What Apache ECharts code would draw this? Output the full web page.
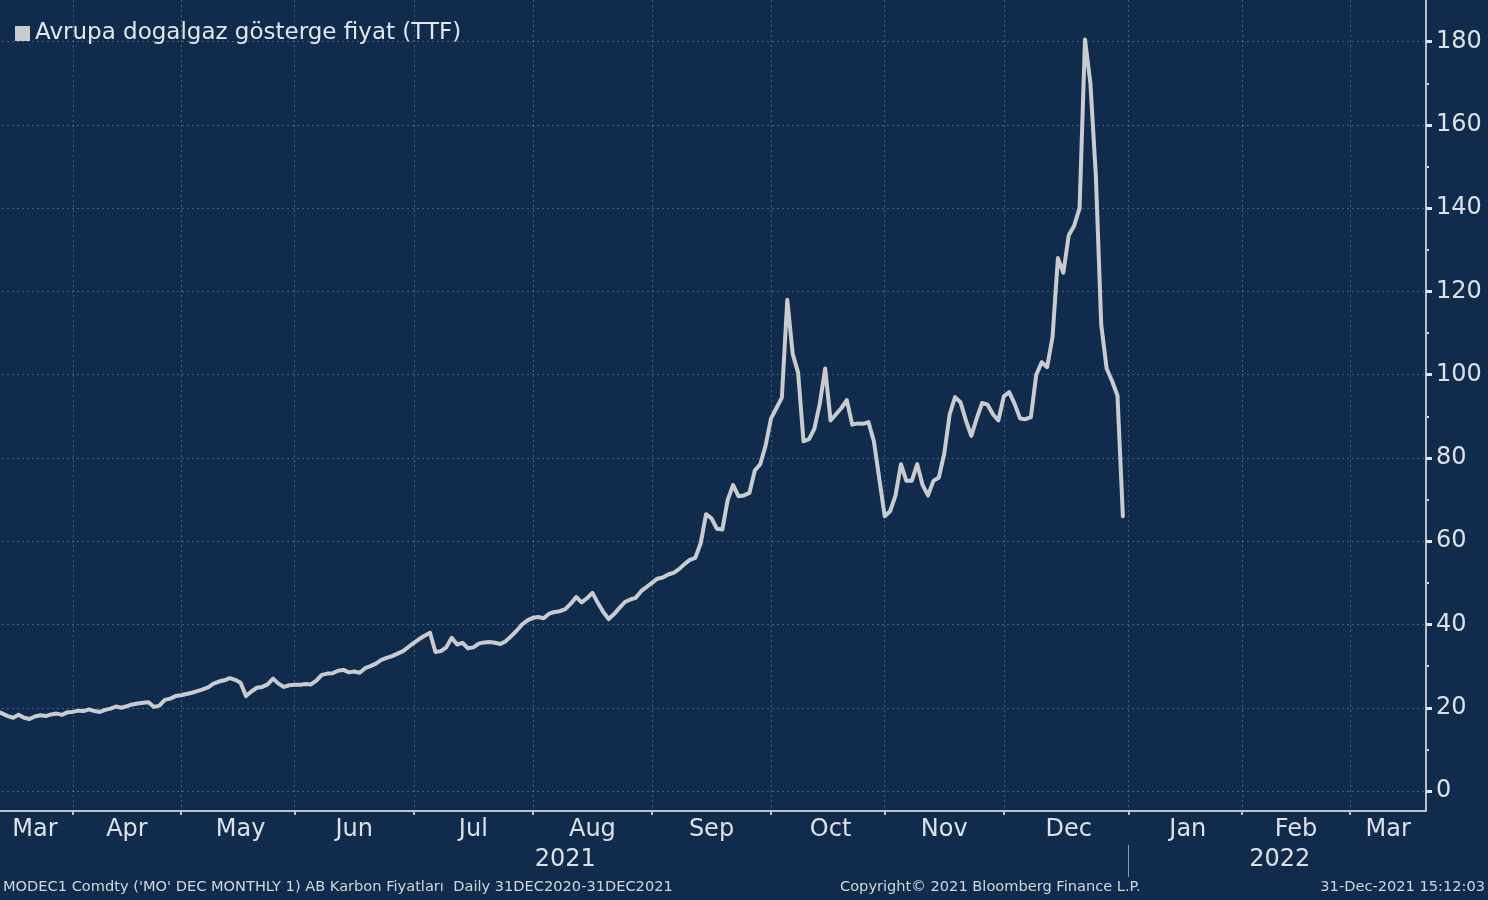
<!DOCTYPE html>
<html>
<head>
<meta charset="utf-8">
<script src="https://cdn.jsdelivr.net/npm/echarts@6/dist/echarts.min.js"></script>
<style>
html,body{margin:0;padding:0;background:#102b4b;}
#c{width:1488px;height:900px;}
</style>
</head>
<body>
<div id="c"></div>
<script>
// ---------- data ----------
const seriesName = 'Avrupa dogalgaz gösterge fiyat (TTF)';
const axisStart = '2021-03-12';
const axisEnd = '2022-03-21';
const holidays = ['2021-04-02', '2021-04-05'];
const monthNames = ['Jan','Feb','Mar','Apr','May','Jun','Jul','Aug','Sep','Oct','Nov','Dec'];
const yTickValues = [0, 20, 40, 60, 80, 100, 120, 140, 160, 180];
const yMinorTickValues = [10, 30, 50, 70, 90, 110, 130, 150, 170];
// daily (trading day) values from 12 Mar 2021 to 31 Dec 2021
const ttfValues = [
  19.2, 18.6, 18.0, 17.6, 18.3, 17.6, 17.3, 17.9, 18.2, 18.0,
  18.4, 18.6, 18.3, 18.9, 19.0, 19.3, 19.2, 19.6, 19.2, 19.0,
  19.5, 19.8, 20.3, 20.0, 20.4, 20.8, 21.0, 21.2, 21.3, 20.2,
  20.5, 21.9, 22.2, 22.8, 23.0, 23.3, 23.6, 24.0, 24.4, 24.9,
  25.8, 26.3, 26.6, 27.1, 26.7, 26.0, 22.8, 23.9, 24.8, 25.0,
  25.6, 27.0, 25.8, 25.0, 25.4, 25.5, 25.5, 25.7, 25.6, 26.5,
  27.9, 28.2, 28.3, 28.9, 29.1, 28.5, 28.7, 28.4, 29.5, 30.0,
  30.6, 31.5, 32.0, 32.4, 33.0, 33.6, 34.6, 35.6, 36.5, 37.3,
  38.0, 33.4, 33.6, 34.5, 36.8, 35.2, 35.6, 34.3, 34.5, 35.4,
  35.7, 35.8, 35.6, 35.3, 36.0, 37.2, 38.5, 40.0, 41.0, 41.6,
  41.8, 41.5, 42.6, 43.0, 43.2, 43.7, 45.0, 46.6, 45.3, 46.3,
  47.6, 45.2, 43.0, 41.3, 42.5, 44.0, 45.4, 46.0, 46.4, 48.0,
  49.0, 50.0, 51.0, 51.3, 52.0, 52.4, 53.3, 54.5, 55.5, 56.0,
  59.5, 66.5, 65.5, 63.0, 62.8, 70.0, 73.5, 70.8, 71.0, 71.6,
  77.0, 78.5, 83.0, 89.5, 92.0, 94.5, 118.0, 105.0, 100.5, 84.0,
  84.5, 87.0, 93.0, 101.5, 89.0, 90.5, 92.0, 93.9, 88.0, 88.3,
  88.2, 88.6, 84.0, 75.0, 66.0, 67.2, 71.0, 78.5, 74.5, 74.5,
  78.5, 73.5, 71.0, 74.5, 75.3, 81.0, 90.5, 94.6, 93.4, 89.0,
  85.3, 89.5, 93.2, 92.8, 90.5, 89.0, 94.8, 95.8, 93.0, 89.5,
  89.3, 89.8, 100.0, 103.0, 101.8, 109.0, 128.0, 124.5, 133.5, 135.8,
  140.0, 180.5, 170.0, 148.0, 112.0, 101.5, 98.5, 95.0, 66.0
];
const footerLeft = "MODEC1 Comdty ('MO' DEC MONTHLY 1) AB Karbon Fiyatları  Daily 31DEC2020-31DEC2021";
const footerCenter = 'Copyright© 2021 Bloomberg Finance L.P.';
const footerRight = '31-Dec-2021 15:12:03';

// ---------- trading-day categories ----------
function tradingDays(start, end, skip) {
  const out = [];
  const d = new Date(start + 'T00:00:00Z');
  const e = new Date(end + 'T00:00:00Z');
  while (d <= e) {
    const wd = d.getUTCDay();
    const s = d.toISOString().slice(0, 10);
    if (wd !== 0 && wd !== 6 && skip.indexOf(s) < 0) out.push(s);
    d.setUTCDate(d.getUTCDate() + 1);
  }
  return out;
}
const days = tradingDays(axisStart, axisEnd, holidays);
const last = days.length - 1;

const monthStarts = [];
const yearStarts = [];
days.forEach((s, i) => {
  if (i > 0 && s.slice(5, 7) !== days[i - 1].slice(5, 7)) monthStarts.push(i);
  if (i > 0 && s.slice(0, 4) !== days[i - 1].slice(0, 4)) yearStarts.push(i);
});
function mids(starts) {
  const b = [0].concat(starts, [last]);
  const r = new Set();
  for (let k = 0; k < b.length - 1; k++) r.add(Math.round((b[k] + b[k + 1]) / 2));
  return r;
}
const monthStartSet = new Set(monthStarts);
const yearStartSet = new Set(yearStarts);
const monthLabelSet = mids(monthStarts);
const yearLabelSet = mids(yearStarts);

// ---------- chart ----------
const FONT = 'DejaVu Sans';
const TXT = '#dde1e7';
const AXIS = '#b9c0ca';
const GRID = 'rgba(165,180,200,0.38)';
const FOOT = { color: '#d2d6dc', fontSize: 14.6, fontWeight: 'normal', fontFamily: FONT };

const chart = echarts.init(document.getElementById('c'), null, { renderer: 'canvas' });
chart.setOption({
  animation: false,
  backgroundColor: '#102b4b',
  textStyle: { fontFamily: FONT },
  title: [
    { text: footerLeft, left: 3, top: 880, padding: 0, textStyle: FOOT },
    { text: footerCenter, left: 840, top: 880, padding: 0, textStyle: FOOT },
    { text: footerRight, right: 3, top: 880, padding: 0, textStyle: FOOT }
  ],
  legend: {
    data: [seriesName], left: 15, top: 22, padding: 0,
    icon: 'rect', itemWidth: 15, itemHeight: 15, itemGap: 6,
    textStyle: { color: '#e3e6ea', fontSize: 23, fontFamily: FONT }
  },
  grid: { left: -3, right: 62, top: 0, bottom: 89, containLabel: false, outerBoundsMode: 'none' },
  xAxis: [
    {
      type: 'category', data: days, boundaryGap: false, position: 'bottom',
      axisLine: { show: true, onZero: false, lineStyle: { color: AXIS, width: 2 } },
      axisTick: { show: true, interval: (i) => monthStartSet.has(i), length: 4,
        lineStyle: { color: AXIS, width: 2 } },
      axisLabel: { show: true, interval: (i) => monthLabelSet.has(i),
        formatter: (v) => monthNames[parseInt(v.slice(5, 7), 10) - 1],
        color: TXT, fontSize: 24, margin: 7, fontFamily: FONT },
      splitLine: { show: true, interval: (i) => monthStartSet.has(i),
        lineStyle: { color: GRID, width: 1, type: [2, 3] } }
    },
    {
      type: 'category', data: days, boundaryGap: false, position: 'bottom', offset: 34,
      axisLine: { show: false, onZero: false },
      axisTick: { show: true, interval: (i) => yearStartSet.has(i), length: 32,
        lineStyle: { color: '#8e99a8', width: 1 } },
      axisLabel: { show: true, interval: (i) => yearLabelSet.has(i),
        formatter: (v) => v.slice(0, 4), color: TXT, fontSize: 24, margin: 3, fontFamily: FONT },
      splitLine: { show: false }
    }
  ],
  yAxis: [
    {
      type: 'value', position: 'right', min: -4.8, max: 190,
      axisLine: { show: true, onZero: false, lineStyle: { color: AXIS, width: 2 } },
      axisTick: { show: true, customValues: yTickValues, length: 6,
        lineStyle: { color: '#e0e4ea', width: 3 } },
      axisLabel: { show: true, customValues: yTickValues, color: TXT, fontSize: 24,
        margin: 10, fontFamily: FONT },
      splitLine: { show: true, lineStyle: { color: GRID, width: 1, type: [2, 3] } }
    },
    {
      type: 'value', position: 'right', min: -4.8, max: 190,
      axisLine: { show: false },
      axisTick: { show: true, customValues: yMinorTickValues, length: 3,
        lineStyle: { color: '#c8ced6', width: 2 } },
      axisLabel: { show: false },
      splitLine: { show: false }
    }
  ],
  series: [
    {
      name: seriesName, type: 'line', data: ttfValues,
      xAxisIndex: 0, yAxisIndex: 0,
      showSymbol: false, symbol: 'none',
      itemStyle: { color: '#c9cbcf' },
      lineStyle: { color: '#c9cbcf', width: 4, join: 'round', cap: 'round' }
    }
  ]
});
</script>
</body>
</html>
